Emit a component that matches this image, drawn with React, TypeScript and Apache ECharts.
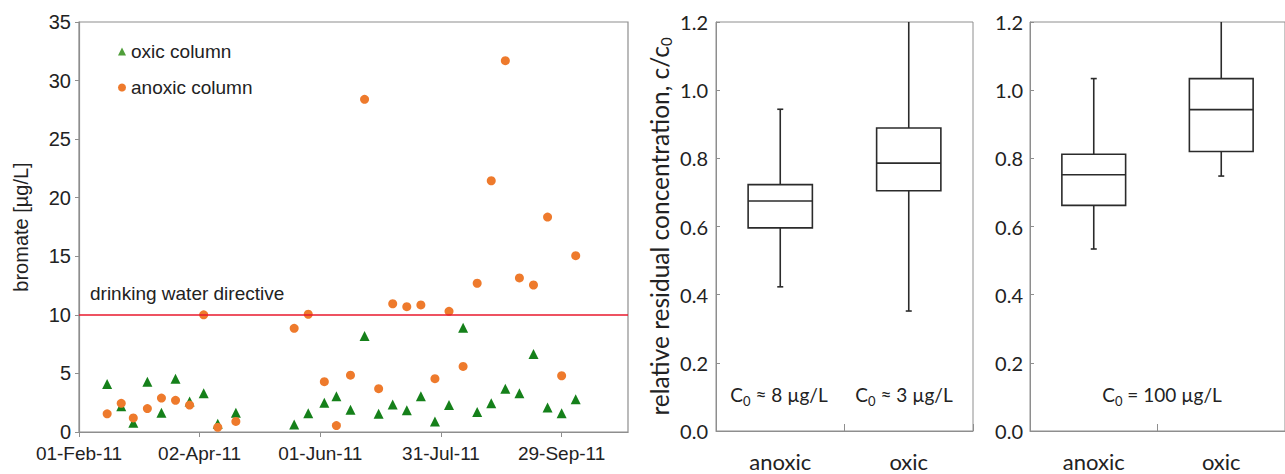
import React, { useEffect, useRef } from "react";
import * as echarts from "echarts";

// ---------- data ----------
const DATE_ORIGIN = "2011-02-01";
const X_MAX_DAYS = 273;
const X_TICK_DAYS = 60;

const sampleDates = [
  "2011-02-15", "2011-02-22", "2011-02-28", "2011-03-07", "2011-03-14", "2011-03-21",
  "2011-03-28", "2011-04-04", "2011-04-11", "2011-04-20", "2011-05-19", "2011-05-26",
  "2011-06-03", "2011-06-09", "2011-06-16", "2011-06-23", "2011-06-30", "2011-07-07",
  "2011-07-14", "2011-07-21", "2011-07-28", "2011-08-04", "2011-08-11", "2011-08-18",
  "2011-08-25", "2011-09-01", "2011-09-08", "2011-09-15", "2011-09-22", "2011-09-29",
  "2011-10-06",
];
const oxicBromate = [
  4.1, 2.2, 0.8, 4.3, 1.65, 4.55, 2.6, 3.3, 0.7, 1.65, 0.65, 1.6,
  2.5, 3.05, 1.9, 8.2, 1.55, 2.35, 1.85, 3.05, 0.9, 2.3, 8.9, 1.7,
  2.45, 3.7, 3.3, 6.65, 2.1, 1.6, 2.8,
];
const anoxicBromate = [
  1.55, 2.45, 1.2, 2.0, 2.9, 2.7, 2.3, 10.0, 0.4, 0.9, 8.85, 10.05,
  4.3, 0.55, 4.85, 28.4, 3.7, 10.95, 10.7, 10.85, 4.55, 10.3, 5.6, 12.7,
  21.45, 31.7, 13.15, 12.55, 18.35, 4.8, 15.05,
];
const directiveLimit = 10;
const bromateMin = 0;
const bromateMax = 35;
const bromateStep = 5;

const boxCategories = ["anoxic", "oxic"];
// [whisker low, Q1, median, Q3, whisker high]
const lowC0Boxes = [
  [0.423, 0.596, 0.675, 0.723, 0.944],
  [0.352, 0.705, 0.786, 0.889, 1.2],
];
const highC0Boxes = [
  [0.534, 0.662, 0.752, 0.812, 1.034],
  [0.748, 0.82, 0.943, 1.034, 1.2],
];
const ratioMin = 0;
const ratioMax = 1.2;
const ratioStep = 0.2;
const lowC0Notes = ["≈ 8 µg/L", "≈ 3 µg/L"];
const highC0Note = "= 100 µg/L";

// ---------- helpers ----------
const DAY = 86400000;
const MONTHS = ["Jan", "Feb", "Mar", "Apr", "May", "Jun", "Jul", "Aug", "Sep", "Oct", "Nov", "Dec"];
const toDays = (d: string) => (Date.parse(d) - Date.parse(DATE_ORIGIN)) / DAY;
const fmtDate = (days: number) => {
  const dt = new Date(Date.parse(DATE_ORIGIN) + days * DAY);
  const dd = String(dt.getUTCDate()).padStart(2, "0");
  const yy = String(dt.getUTCFullYear()).slice(2);
  return `${dd}-${MONTHS[dt.getUTCMonth()]}-${yy}`;
};

const ARIAL = "Liberation Sans, Arial, sans-serif";
const CAL = "Lato, Open Sans, sans-serif";
const GRAY = "#8e8e8e";
const DARK = "#222";
const GREEN = "#15801a";
const ORANGE = "#ee7a2c";

const renderBox = (params: any, api: any) => {
  const cat = api.value(0);
  const v = [1, 2, 3, 4, 5].map((i) => api.value(i));
  const band = api.size([1, 0])[0];
  const half = band * 0.25;
  const cap = 3;
  const pMin = api.coord([cat, v[0]]);
  const x = pMin[0];
  const yMin = pMin[1];
  const yQ1 = api.coord([cat, v[1]])[1];
  const yMed = api.coord([cat, v[2]])[1];
  const yQ3 = api.coord([cat, v[3]])[1];
  const yMax = api.coord([cat, v[4]])[1];
  const st = { stroke: "#2b2b2b", lineWidth: 1.6, fill: null };
  const children: any[] = [
    { type: "line", shape: { x1: x, y1: yQ3, x2: x, y2: yMax }, style: st },
    { type: "line", shape: { x1: x, y1: yQ1, x2: x, y2: yMin }, style: st },
    { type: "line", shape: { x1: x - cap, y1: yMin, x2: x + cap, y2: yMin }, style: st },
    {
      type: "rect",
      shape: { x: x - half, y: yQ3, width: half * 2, height: yQ1 - yQ3 },
      style: { stroke: "#2b2b2b", lineWidth: 1.6, fill: "#fff" },
    },
    { type: "line", shape: { x1: x - half, y1: yMed, x2: x + half, y2: yMed }, style: st },
  ];
  if (v[4] < ratioMax) {
    children.push({ type: "line", shape: { x1: x - cap, y1: yMax, x2: x + cap, y2: yMax }, style: st });
  }
  return { type: "group", children };
};

const boxYAxis = (gridIndex: number, withName: boolean, margin: number) => ({
  type: "value",
  gridIndex,
  min: ratioMin,
  max: ratioMax,
  interval: ratioStep,
  axisLine: { show: true, lineStyle: { color: GRAY, width: 1 } },
  axisTick: { show: true, inside: true, length: 4, lineStyle: { color: GRAY } },
  splitLine: { show: false },
  axisLabel: {
    margin,
    fontSize: 20,
    fontFamily: CAL,
    color: DARK,
    formatter: (val: number) => val.toFixed(1),
  },
  ...(withName
    ? {
        name: "{t|relative residual concentration, c/c}{s|0}",
        nameLocation: "middle",
        nameGap: 43,
        nameTextStyle: {
          rich: {
            t: { fontSize: 24.5, fontFamily: CAL, color: DARK, lineHeight: 28 },
            s: { fontSize: 15, fontFamily: CAL, color: DARK, lineHeight: 15, verticalAlign: "bottom" },
          },
        },
      }
    : {}),
});

const boxXAxis = (gridIndex: number) => ({
  type: "category",
  gridIndex,
  data: boxCategories,
  axisLine: { show: true, lineStyle: { color: GRAY, width: 1 } },
  axisTick: { show: true, inside: true, length: 7, lineStyle: { color: GRAY } },
  axisLabel: { margin: 21, fontSize: 22, lineHeight: 18, fontFamily: CAL, color: DARK },
});

const noteText = (text: string, x: number, y: number) => ({
  type: "text",
  x,
  y,
  style: {
    text: `{c|C}{s|0}{c| ${text}}`,
    align: "center",
    verticalAlign: "middle",
    rich: {
      c: { fontSize: 19, fontFamily: CAL, fill: DARK, lineHeight: 26 },
      s: { fontSize: 13, fontFamily: CAL, fill: DARK, lineHeight: 14, verticalAlign: "bottom" },
    },
  },
});

export default function App() {
  const ref = useRef<HTMLDivElement>(null);
  useEffect(() => {
    document.body.style.margin = "0";
    if (!ref.current) return;
    const chart = echarts.init(ref.current, undefined, { renderer: "svg" });
    const days = sampleDates.map(toDays);
    const oxic = days.map((d, i) => [d, oxicBromate[i]]);
    const anoxic = days.map((d, i) => [d, anoxicBromate[i]]);

    chart.setOption({
      animation: false,
      backgroundColor: "#fff",
      grid: [
        { left: 79, top: 22, width: 549, height: 410, show: true, borderColor: GRAY, borderWidth: 1.2 },
        { left: 716, top: 22, width: 257, height: 409, show: true, borderColor: GRAY, borderWidth: 1 },
        { left: 1030, top: 22, width: 257, height: 409, show: true, borderColor: GRAY, borderWidth: 1 },
      ],
      legend: {
        data: [
          { name: "oxic column", icon: "triangle", itemStyle: { color: "#4f9e3a", opacity: 1 } },
          { name: "anoxic column", icon: "circle", itemStyle: { color: ORANGE, opacity: 1 } },
        ],
        orient: "vertical",
        left: 118,
        top: 42,
        padding: 0,
        itemWidth: 8,
        itemHeight: 8,
        itemGap: 17,
        selectedMode: false,
        textStyle: { fontSize: 19, fontFamily: ARIAL, color: DARK },
      },
      xAxis: [
        {
          type: "value",
          gridIndex: 0,
          min: 0,
          max: X_MAX_DAYS,
          interval: X_TICK_DAYS,
          axisLine: { show: true, lineStyle: { color: GRAY, width: 1.2 } },
          axisTick: { show: true, length: 5, lineStyle: { color: GRAY } },
          splitLine: { show: false },
          axisLabel: {
            margin: 12,
            fontSize: 19,
            fontFamily: ARIAL,
            color: DARK,
            showMaxLabel: false,
            formatter: (v: number) => (v % X_TICK_DAYS === 0 ? fmtDate(v) : ""),
          },
        },
        boxXAxis(1),
        boxXAxis(2),
      ],
      yAxis: [
        {
          type: "value",
          gridIndex: 0,
          min: bromateMin,
          max: bromateMax,
          interval: bromateStep,
          axisLine: { show: true, lineStyle: { color: GRAY, width: 1.2 } },
          axisTick: { show: true, length: 4, lineStyle: { color: GRAY } },
          splitLine: { show: false },
          axisLabel: { margin: 8, fontSize: 20, fontFamily: ARIAL, color: DARK },
          name: "bromate [µg/L]",
          nameLocation: "middle",
          nameGap: 48,
          nameTextStyle: { fontSize: 20, fontFamily: ARIAL, color: DARK },
        },
        boxYAxis(1, true, 8),
        boxYAxis(2, false, 7),
      ],
      series: [
        {
          name: "oxic column",
          type: "scatter",
          xAxisIndex: 0,
          yAxisIndex: 0,
          symbol: "triangle",
          symbolSize: 10,
          itemStyle: { color: GREEN, opacity: 1 },
          data: oxic,
        },
        {
          name: "anoxic column",
          type: "scatter",
          xAxisIndex: 0,
          yAxisIndex: 0,
          symbol: "circle",
          symbolSize: 9,
          itemStyle: { color: ORANGE, opacity: 1 },
          data: anoxic,
          markLine: {
            silent: true,
            symbol: "none",
            label: { show: false },
            lineStyle: { color: "#e8192c", width: 1.5, type: "solid" },
            data: [{ yAxis: directiveLimit }],
          },
        },
        {
          name: "low C0",
          type: "custom",
          xAxisIndex: 1,
          yAxisIndex: 1,
          renderItem: renderBox,
          encode: { x: 0, y: [1, 2, 3, 4, 5] },
          data: lowC0Boxes.map((b, i) => [i, ...b]),
          z: 3,
        },
        {
          name: "high C0",
          type: "custom",
          xAxisIndex: 2,
          yAxisIndex: 2,
          renderItem: renderBox,
          encode: { x: 0, y: [1, 2, 3, 4, 5] },
          data: highC0Boxes.map((b, i) => [i, ...b]),
          z: 3,
        },
      ],
      graphic: [
        {
          type: "text",
          x: 90,
          y: 293,
          style: {
            text: "drinking water directive",
            fontSize: 19,
            fontFamily: ARIAL,
            fill: DARK,
            verticalAlign: "middle",
          },
        },
        noteText(lowC0Notes[0], 779, 394),
        noteText(lowC0Notes[1], 904, 394),
        noteText(highC0Note, 1162, 394),
      ],
    });
    return () => chart.dispose();
  }, []);
  return <div ref={ref} style={{ width: 1285, height: 474 }} />;
}
